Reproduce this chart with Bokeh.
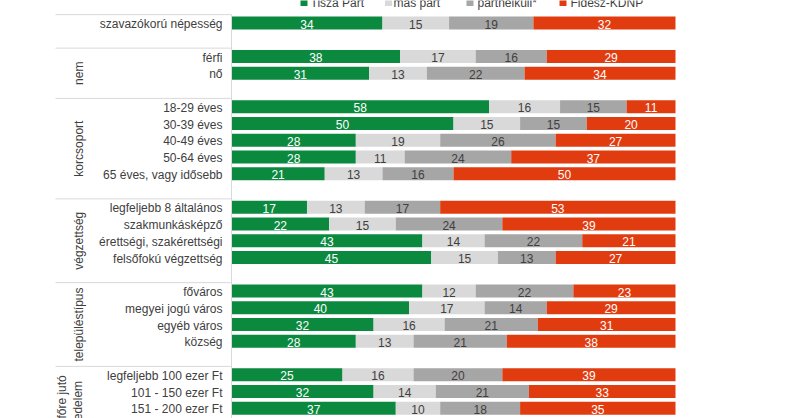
import numpy as np
from bokeh.plotting import figure
from bokeh.models import Range1d, ColumnDataSource
from bokeh.core.properties import value
from bokeh.embed import file_html
from bokeh.resources import INLINE

# ---- data ----
series = ["Tisza Párt", "más párt", "pártnélküli*", "Fidesz-KDNP"]
colors = ["#0b8a3f", "#d9d9d9", "#a6a6a6", "#e03c10"]
label_colors = ["#ffffff", "#404040", "#404040", "#ffffff"]

categories = [
    "szavazókorú népesség",
    "férfi", "nő",
    "18-29 éves", "30-39 éves", "40-49 éves", "50-64 éves", "65 éves, vagy idősebb",
    "legfeljebb 8 általános", "szakmunkásképző", "érettségi, szakérettségi", "felsőfokú végzettség",
    "főváros", "megyei jogú város", "egyéb város", "község",
    "legfeljebb 100 ezer Ft", "101 - 150 ezer Ft", "151 - 200 ezer Ft",
]
tisza = [34, 38, 31, 58, 50, 28, 28, 21, 17, 22, 43, 45, 43, 40, 32, 28, 25, 32, 37]
mas = [15, 17, 13, 16, 15, 19, 11, 13, 13, 15, 14, 15, 12, 17, 16, 13, 16, 14, 10]
partnelkuli = [19, 16, 22, 15, 15, 26, 24, 16, 17, 24, 22, 13, 22, 14, 21, 21, 20, 21, 18]
fidesz = [32, 29, 34, 11, 20, 27, 37, 50, 53, 39, 21, 27, 23, 29, 31, 38, 39, 33, 35]

# groups: (label, number of categories shown, rows spanned by the group)
groups = [
    ("", 1, 1),
    ("nem", 2, 2),
    ("korcsoport", 5, 5),
    ("végzettség", 4, 4),
    ("településtípus", 4, 4),
    ("egy főre jutó\njövedelem", 3, 4),
]

# ---- layout of rows (one empty row after each group) ----
rows = []
sep_rows = []
group_centers = []
r = 0
for name, n, span in groups:
    sep_rows.append(r - 0.5)
    group_centers.append((name, (r + r + span) / 2.0))
    rows.extend(range(r, r + n))
    r += span + 1

FONT = value("Liberation Sans")
W, H = 800, 418
PX = 4.44                      # pixels per percent
x0 = -231 / PX
x1 = x0 + W / PX
row_px = 16.75
y_top = -22.5 / row_px
y_bot = y_top + H / row_px


def px_x(px):
    return px / PX + x0


def px_y(py):
    return py / row_px + y_top


p = figure(width=W, height=H, output_backend="svg", toolbar_location=None,
           x_range=Range1d(x0, x1), y_range=Range1d(y_bot, y_top),
           min_border=0, min_border_left=0, min_border_right=0,
           min_border_top=0, min_border_bottom=0)
p.axis.visible = False
p.grid.visible = False
p.outline_line_color = None
p.background_fill_color = "white"
p.border_fill_color = "white"

# stacked bars
vals = np.array([tisza, mas, partnelkuli, fidesz], dtype=float)
lefts = np.vstack([np.zeros(len(categories)), np.cumsum(vals, axis=0)[:-1]])
for i, s in enumerate(series):
    src = ColumnDataSource(dict(y=rows, left=lefts[i], right=lefts[i] + vals[i],
                                mid=lefts[i] + vals[i] / 2,
                                txt=[str(int(v)) for v in vals[i]]))
    p.hbar(y="y", left="left", right="right", height=0.78, source=src,
           fill_color=colors[i], line_color=None)
    p.text(x="mid", y="y", text="txt", source=src, text_align="center",
           text_baseline="middle", text_font=FONT, text_font_size="12px",
           text_color=label_colors[i], y_offset=1)

# category labels
p.text(x=[px_x(222)] * len(categories), y=rows, text=categories, text_align="right",
       text_baseline="middle", text_font=FONT, text_font_size="12px",
       text_color="#404040", y_offset=1)

# vertical axis line and group separators
p.segment(x0=[0], y0=[-0.5], x1=[0], y1=[y_bot + 1], line_color="#d9d9d9", line_width=1)
p.segment(x0=[px_x(55)] * len(sep_rows), y0=sep_rows, x1=[0] * len(sep_rows), y1=sep_rows,
          line_color="#d9d9d9", line_width=1)

# group labels (rotated)
gl = [(n, c) for n, c in group_centers if n]
gxs = [px_x(78 - 8.5 * n.count("\n")) for n, _ in gl]
p.text(x=gxs, y=[c for _, c in gl], text=[n for n, _ in gl],
       angle=np.pi / 2, text_align="center", text_baseline="middle",
       text_font=FONT, text_font_size="12px", text_color="#404040",
       text_line_height=1.15)

# legend (cropped at top like the reference)
leg_y = px_y(2.0)
leg_mx = [px_x(v) for v in (303.5, 388, 469.5, 562.5)]
leg_tx = [px_x(v) for v in (310, 393, 477, 570)]
p.scatter(x=leg_mx, y=[leg_y] * 4, marker="square", size=7, fill_color=colors,
          line_color=None)
p.text(x=leg_tx, y=[leg_y] * 4, text=series, text_align="left", text_baseline="middle",
       text_font=FONT, text_font_size="12px", text_color="#404040")

open("out.html", "w").write(file_html(p, INLINE))
